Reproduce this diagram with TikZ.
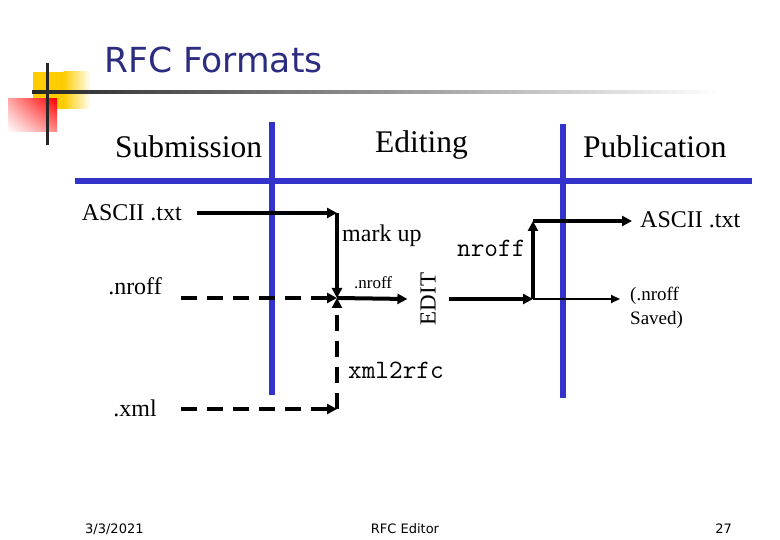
\documentclass[tikz,border=0pt]{standalone}
\usepackage{fontspec}
\setmainfont{Liberation Serif}
\setsansfont{DejaVu Sans}
\usetikzlibrary{arrows.meta,shadings}

\definecolor{titleblue}{RGB}{44,44,128}
\definecolor{barblue}{RGB}{51,51,204}
\definecolor{logoyellow}{RGB}{255,204,0}

\tikzset{
  bar/.style={barblue, line width=6pt},
  flow/.style={line width=4pt, -{Triangle[length=10pt,width=10pt]}},
  flowdash/.style={flow, dash pattern=on 16pt off 10pt},
  thinflow/.style={line width=2pt, -{Triangle[length=9pt,width=8pt]}},
  head/.style={inner sep=0, font=\fontsize{31.5}{32}\selectfont},
  lbl/.style={inner sep=0, font=\fontsize{24}{24}\selectfont},
  code/.style={inner sep=0, font=\fontsize{26.5}{27}\selectfont\ttfamily},
  foot/.style={inner sep=0, font=\sffamily\fontsize{13}{13}\selectfont}
}

\begin{document}
\begin{tikzpicture}[x=1pt, y=-1pt]
  \useasboundingbox (0,0) rectangle (780,540);
  % logo
  \fill[logoyellow] (33,72) rectangle (64,109);
  \shade[left color=logoyellow, right color=white] (63.5,72) rectangle (91,109);
  \shade[upper right=red, upper left=red!35, lower right=red!45, lower left=white]
    (8,99) rectangle (57,132);
  \draw[black!85, line width=3pt] (47,63) -- (47,145);
  \shade[left color=black!85, right color=white] (32,90.5) rectangle (720,93.5);
  \node[anchor=base west, inner sep=0, text=titleblue,
        font=\sffamily\fontsize{34.5}{35}\selectfont] (title) at (104,73) {RFC Formats};

  % phase bars
  \draw[bar] (75,181) -- (752,181);
  \draw[bar] (272,122) -- (272,395);
  \draw[bar] (563,124) -- (563,398);
  \node[head, anchor=base west] (submission) at (115,158) {Submission};
  \node[head, anchor=base west] (editing) at (375,153) {Editing};
  \node[head, anchor=base west] (publication) at (583,158) {Publication};

  % inputs
  \node[lbl, anchor=base east] (asciiIn) at (182,221) {ASCII .txt};
  \node[lbl, anchor=base east] (nroffIn) at (162,295) {.nroff};
  \node[lbl, anchor=base east] (xmlIn) at (157,417) {.xml};
  \coordinate (cMark) at (337,213);
  \coordinate (cEdit) at (337,298);
  \coordinate (cXml) at (337,409);
  \draw[flow, shorten <=15pt] (asciiIn.east |- cMark) -- (cMark);
  \draw[flow] (cMark) -- (cEdit);
  \draw[flowdash, shorten <=19pt] (nroffIn.east |- cEdit) -- (cEdit);
  \draw[flowdash, shorten <=24pt] (xmlIn.east |- cXml) -- (cXml);
  \draw[flowdash] (cXml) -- (cEdit);
  \node[lbl, anchor=base west] (markup) at (342,242) {mark up};
  \node[code, anchor=base west] (xmlrfc) at (348,378) {xml2rfc};

  % editing
  \node[lbl, font=\fontsize{23}{23}\selectfont, rotate=90, outer sep=13pt] (edit) at (428,299) {EDIT};
  \draw[flow] (cEdit) -- (edit.north);
  \node[inner sep=0, anchor=base west, font=\fontsize{17}{17}\selectfont] (nroffSmall) at (354,289) {.nroff};

  % outputs
  \coordinate (cOut) at (533,299);
  \coordinate (cUp) at (533,221);
  \node[lbl, anchor=base west] (asciiOut) at (640,228) {ASCII .txt};
  \node[inner sep=0, anchor=north west, align=left,
        font=\fontsize{19}{24}\selectfont] (saved) at (630,287) {(.nroff\\Saved)};
  \draw[flow] (edit.south) -- (cOut);
  \draw[flow] (cOut) -- (cUp);
  \draw[flow, shorten >=8pt] (cUp) -- (asciiOut.west |- cUp);
  \draw[thinflow, shorten >=10pt] (cOut) -- (saved.west |- cOut);
  \node[code, anchor=base west] (nroffLbl) at (457,257) {nroff};

  % footer
  \node[foot, anchor=base west] (date) at (85,533) {3/3/2021};
  \node[foot, anchor=base] (editor) at (405,533) {RFC Editor};
  \node[foot, anchor=base east] (page) at (732,533) {27};
\end{tikzpicture}
\end{document}
